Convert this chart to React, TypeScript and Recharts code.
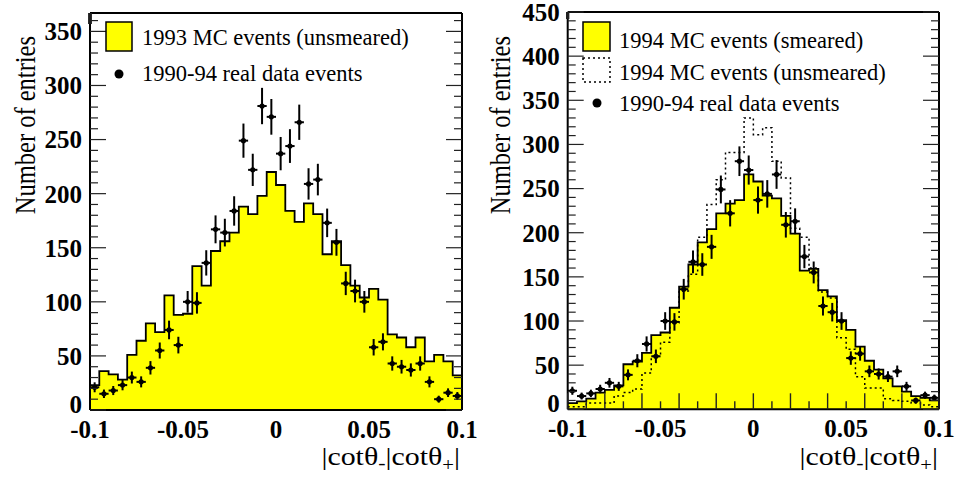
import React from 'react'
import { ComposedChart, Area, Line, Scatter, ErrorBar, XAxis, YAxis } from 'recharts'

const SERIF = '"Liberation Serif", "Times New Roman", serif'

// bin edges of |cot theta-| - |cot theta+|, 40 bins
const binEdges = [
  -0.1, -0.095, -0.09, -0.085, -0.08, -0.075, -0.07, -0.065, -0.06, -0.055,
  -0.05, -0.045, -0.04, -0.035, -0.03, -0.025, -0.02, -0.015, -0.01, -0.005,
  0, 0.005, 0.01, 0.015, 0.02, 0.025, 0.03, 0.035, 0.04, 0.045,
  0.05, 0.055, 0.06, 0.065, 0.07, 0.075, 0.08, 0.085, 0.09, 0.095, 0.1,
]

// 1990-94 real data events (same sample in both panels)
const realData = [
  21, 15, 18, 23, 30, 26, 39, 55, 74, 60, 100, 99, 136, 167, 164, 184, 249, 222, 281, 271,
  237, 244, 266, 209, 213, 173, 155, 117, 110, 100, 58, 63, 43, 40, 37, 43, 26, 10, 16, 13,
]
const realErr = [
  4.6, 3.9, 4.2, 4.8, 5.5, 5.1, 6.2, 7.4, 8.6, 7.7, 10, 9.9, 11.7, 12.9, 12.8, 13.6, 15.8, 14.9, 16.8, 16.5,
  15.4, 15.6, 16.3, 14.5, 14.6, 13.2, 12.4, 10.8, 10.5, 10, 7.6, 7.9, 6.6, 6.3, 6.1, 6.6, 5.1, 3.2, 4, 3.6,
]

const mc93Unsmeared = [
  23, 36, 33, 28, 51, 64, 80, 72, 106, 88, 89, 133, 115, 147, 156, 164, 188, 181, 198, 220,
  208, 184, 174, 191, 181, 144, 156, 134, 115, 104, 112, 102, 70, 67, 58, 67, 45, 51, 45, 32,
]
const mc94Smeared = [
  7, 9, 12, 19, 22, 27, 51, 54, 64, 84, 87, 115, 139, 164, 189, 204, 222, 233, 237, 266,
  258, 242, 239, 219, 199, 157, 159, 135, 128, 101, 90, 71, 55, 45, 35, 26, 20, 15, 13, 10,
]
const mc94Unsmeared = [
  3, 3, 7, 7, 7, 15, 19, 23, 41, 60, 76, 98, 134, 153, 195, 232, 260, 291, 291, 330,
  311, 319, 281, 262, 205, 195, 160, 133, 126, 81, 68, 37, 24, 24, 12, 10, 9, 7, 5, 3,
]

const xLabels = [-0.1, -0.05, 0, 0.05, 0.1]
const leftYLabels = [0, 50, 100, 150, 200, 250, 300, 350]
const rightYLabels = [0, 50, 100, 150, 200, 250, 300, 350, 400, 450]

const LEFT_YMAX = 367
const RIGHT_YMAX = 450

// evenly spaced tick marks for the frame
const marks = (from: number, to: number, step: number) => {
  const n = Math.round((to - from) / step)
  const out: number[] = []
  for (let i = 0; i <= n; i++) out.push(+(from + i * step).toFixed(4))
  return out
}

const has = (list: number[], v: number) => list.some((t) => Math.abs(t - v) < 1e-6)

// step rows: one per bin edge, the last edge repeats the last bin
const leftRows = binEdges.map((x, i) => ({ x, mc: mc93Unsmeared[Math.min(i, 39)] }))
const rightRows = binEdges.map((x, i) => ({
  x,
  sm: mc94Smeared[Math.min(i, 39)],
  un: mc94Unsmeared[Math.min(i, 39)],
}))
const points = realData.map((y, i) => ({
  x: (binEdges[i] + binEdges[i + 1]) / 2,
  y,
  ey: realErr[i],
  ex: (binEdges[i + 1] - binEdges[i]) / 2,
}))

const frameLine = { stroke: '#000', strokeWidth: 2 }
const markColor = '#222'

const labelStyle = { fill: '#000', fontSize: 25, fontWeight: 700, fontFamily: SERIF }

type Cfg = {
  yMax: number
  yWidth: number
  yLabels: number[]
  yMarks: number[]
  topMarks: number[]
  topLen: number
  bottomMarks: number[]
  bottomMajor: number[]
}

function frameAxes(c: Cfg) {
  const bottomTick = (p: any) => {
    const v = p.payload.value
    const len = c.bottomMarks.length ? (has(c.bottomMajor, v) ? 16 : 8) : 0
    return (
      <g>
        {len > 0 && <line x1={p.x} x2={p.x} y1={p.y} y2={p.y - len} stroke={markColor} strokeWidth={1.4} />}
        {has(xLabels, v) && (
          <text x={p.x} y={p.y + 28} textAnchor="middle" {...labelStyle}>
            {String(+v.toFixed(3))}
          </text>
        )}
      </g>
    )
  }
  const leftTick = (p: any) => {
    const v = p.payload.value
    const major = has(c.yLabels, v)
    return (
      <g>
        <line x1={p.x} x2={p.x + (major ? 16 : 8)} y1={p.y} y2={p.y} stroke={markColor} strokeWidth={1.2} />
        {major && (
          <text x={p.x - 8} y={v === 0 ? p.y - 6 : p.y} dy="0.355em" textAnchor="end" {...labelStyle}>
            {v}
          </text>
        )}
      </g>
    )
  }
  const rightTick = (p: any) => {
    const v = p.payload.value
    const major = has(c.yLabels, v)
    return <line x1={p.x} x2={p.x - (major ? 16 : 8)} y1={p.y} y2={p.y} stroke={markColor} strokeWidth={1.2} />
  }
  const topTick = (p: any) => (
    <line x1={p.x} x2={p.x} y1={p.y} y2={p.y + c.topLen} stroke={markColor} strokeWidth={1.2} />
  )
  const bottomList = c.bottomMarks.length ? c.bottomMarks : xLabels
  return [
    <XAxis
      key="xb"
      xAxisId="main"
      type="number"
      dataKey="x"
      domain={[-0.1, 0.1]}
      allowDataOverflow
      ticks={bottomList}
      interval={0}
      tickLine={false}
      tickSize={0}
      tickMargin={0}
      height={40}
      axisLine={frameLine}
      tick={bottomTick}
    />,
    <XAxis
      key="xt"
      xAxisId="top"
      orientation="top"
      mirror
      type="number"
      domain={[-0.1, 0.1]}
      allowDataOverflow
      ticks={c.topMarks}
      interval={0}
      tickLine={false}
      tickSize={0}
      tickMargin={0}
      height={20}
      axisLine={frameLine}
      tick={topTick}
    />,
    <YAxis
      key="yl"
      yAxisId="main"
      type="number"
      dataKey="y"
      domain={[0, c.yMax]}
      allowDataOverflow
      ticks={c.yMarks}
      interval={0}
      tickLine={false}
      tickSize={0}
      tickMargin={0}
      width={c.yWidth}
      axisLine={frameLine}
      tick={leftTick}
    />,
    <YAxis
      key="yr"
      yAxisId="right"
      orientation="right"
      mirror
      type="number"
      domain={[0, c.yMax]}
      allowDataOverflow
      ticks={c.yMarks}
      interval={0}
      tickLine={false}
      tickSize={0}
      tickMargin={0}
      width={20}
      axisLine={frameLine}
      tick={rightTick}
    />,
  ]
}

const dataPoints = () => (
  <Scatter
    key="pts"
    xAxisId="main"
    yAxisId="main"
    data={points}
    dataKey="y"
    fill="#000"
    isAnimationActive={false}
    shape={(p: any) => <circle cx={p.cx} cy={p.cy} r={2.6} fill="#000" />}
  >
    <ErrorBar dataKey="ey" direction="y" width={0} stroke="#000" strokeWidth={2} isAnimationActive={false} />
    <ErrorBar dataKey="ex" direction="x" width={0} stroke="#000" strokeWidth={2} isAnimationActive={false} />
  </Scatter>
)

const txt = { fontFamily: SERIF, fill: '#000' }

function XTitle({ right }: { right: number }) {
  return (
    <text transform={`translate(${right},465) scale(1.15,1)`} textAnchor="end" fontSize={26} {...txt}>
      |cotθ<tspan fontSize={19} dy={4}>-</tspan>
      <tspan dy={-4}>|cotθ</tspan>
      <tspan fontSize={18} dy={6}>+</tspan>
      <tspan dy={-6}>|</tspan>
    </text>
  )
}

function YTitle({ x }: { x: number }) {
  return (
    <text transform={`translate(${x},36) rotate(-90) scale(1,1.22)`} textAnchor="end" fontSize={24.5} {...txt}>
      Number of entries
    </text>
  )
}

export default function App() {
  return (
    <div style={{ position: 'absolute', left: 0, top: 0, width: 958, height: 478, background: '#fff' }}>
      <div style={{ position: 'absolute', left: 0, top: 0 }}>
        <ComposedChart width={479} height={478} data={leftRows} margin={{ top: 13, right: 17, bottom: 28, left: 0 }}>
          <Area
            xAxisId="main"
            yAxisId="main"
            type="stepAfter"
            dataKey="mc"
            stroke="#000"
            strokeWidth={1.8}
            fill="#ffff00"
            fillOpacity={1}
            dot={false}
            activeDot={false}
            isAnimationActive={false}
          />
          {dataPoints()}
          {frameAxes({
            yMax: LEFT_YMAX,
            yWidth: 90,
            yLabels: leftYLabels,
            yMarks: marks(0, 360, 10),
            topMarks: marks(-0.1, 0.1, 0.008),
            topLen: 11,
            bottomMarks: [],
            bottomMajor: [],
          })}
        </ComposedChart>
      </div>
      <div style={{ position: 'absolute', left: 479, top: 0 }}>
        <ComposedChart width={479} height={478} data={rightRows} margin={{ top: 12, right: 19, bottom: 28.7, left: 0 }}>
          <Area
            xAxisId="main"
            yAxisId="main"
            type="stepAfter"
            dataKey="sm"
            stroke="#000"
            strokeWidth={1.8}
            fill="#ffff00"
            fillOpacity={1}
            dot={false}
            activeDot={false}
            isAnimationActive={false}
          />
          <Line
            xAxisId="main"
            yAxisId="main"
            type="stepAfter"
            dataKey="un"
            stroke="#000"
            strokeWidth={1.5}
            strokeDasharray="2 3"
            dot={false}
            activeDot={false}
            isAnimationActive={false}
          />
          {dataPoints()}
          {frameAxes({
            yMax: RIGHT_YMAX,
            yWidth: 88.7,
            yLabels: rightYLabels,
            yMarks: marks(0, 450, 10),
            topMarks: marks(-0.1, 0.1, 0.01),
            topLen: 7,
            bottomMarks: marks(-0.1, 0.1, 0.01),
            bottomMajor: marks(-0.1, 0.1, 0.02),
          })}
        </ComposedChart>
      </div>
      <svg
        width={958}
        height={478}
        style={{ position: 'absolute', left: 0, top: 0, pointerEvents: 'none' }}
      >
        {/* axis titles */}
        <YTitle x={35} />
        <YTitle x={510} />
        <XTitle right={460} />
        <XTitle right={938} />

        {/* left legend */}
        <rect x={106} y={22} width={26} height={29} fill="#ffff00" stroke="#000" strokeWidth={1.5} />
        <text x={142} y={45} fontSize={22.5} {...txt}>1993 MC events (unsmeared)</text>
        <circle cx={119} cy={74} r={4.5} fill="#000" />
        <text x={142} y={81} fontSize={22.5} {...txt}>1990-94 real data events</text>

        {/* right legend */}
        <rect x={583} y={22} width={27} height={29} fill="#ffff00" stroke="#000" strokeWidth={1.5} />
        <text x={619} y={48} fontSize={22.5} {...txt}>1994 MC events (smeared)</text>
        <rect x={583} y={58} width={27} height={24} fill="none" stroke="#000" strokeWidth={1.5} strokeDasharray="2 3" />
        <text x={619} y={80} fontSize={22.5} {...txt}>1994 MC events (unsmeared)</text>
        <circle cx={597} cy={103} r={4.5} fill="#000" />
        <text x={619} y={111} fontSize={22.5} {...txt}>1990-94 real data events</text>
      </svg>
    </div>
  )
}
